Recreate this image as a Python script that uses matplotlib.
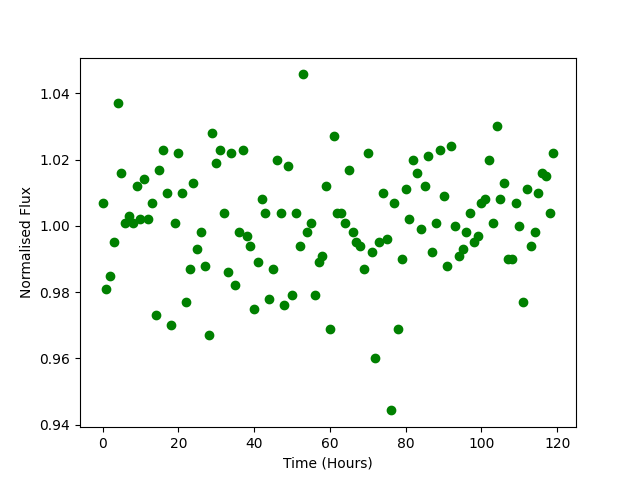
import numpy as np
import matplotlib
matplotlib.use("Agg")
import matplotlib.pyplot as plt

# Tempo em horas (0..119)
time_hours = np.arange(120)

# Fluxo normalizado
flux = [
    1.007, 0.981, 0.985, 0.995, 1.037, 1.016, 1.001, 1.003, 1.001, 1.012,
    1.002, 1.014, 1.002, 1.007, 0.973, 1.017, 1.023, 1.010, 0.970, 1.001,
    1.022, 1.010, 0.977, 0.987, 1.013, 0.993, 0.998, 0.988, 0.967, 1.028,
    1.019, 1.023, 1.004, 0.986, 1.022, 0.982, 0.998, 1.023, 0.997, 0.994,
    0.975, 0.989, 1.008, 1.004, 0.978, 0.987, 1.020, 1.004, 0.976, 1.018,
    0.979, 1.004, 0.994, 1.0457, 0.998, 1.001, 0.979, 0.989, 0.991, 1.012,
    0.969, 1.027, 1.004, 1.004, 1.001, 1.017, 0.998, 0.995, 0.994, 0.987,
    1.022, 0.992, 0.960, 0.995, 1.010, 0.996, 0.9443, 1.007, 0.969, 0.990,
    1.011, 1.002, 1.020, 1.016, 0.999, 1.012, 1.021, 0.992, 1.001, 1.023,
    1.009, 0.988, 1.024, 1.000, 0.991, 0.993, 0.998, 1.004, 0.995, 0.997,
    1.007, 1.008, 1.020, 1.001, 1.030, 1.008, 1.013, 0.990, 0.990, 1.007,
    1.000, 0.977, 1.011, 0.994, 0.998, 1.010, 1.016, 1.015, 1.004, 1.022,
]

fig = plt.figure(figsize=(6.4, 4.8), dpi=100)
plt.scatter(time_hours, flux, color="g")
plt.xlabel("Time (Hours)")
plt.ylabel("Normalised Flux")
plt.savefig("out.png")
